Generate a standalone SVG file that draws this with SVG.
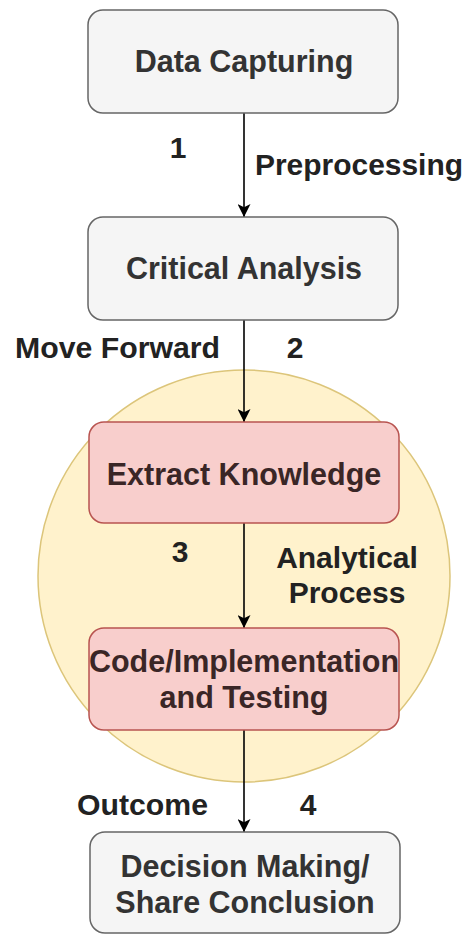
<svg xmlns="http://www.w3.org/2000/svg" width="467" height="935" viewBox="0 0 467 935">
  <defs>
    <marker id="arrow" viewBox="0 0 10 10" refX="10" refY="5" markerWidth="14" markerHeight="13" markerUnits="userSpaceOnUse" orient="auto">
      <path d="M0,0 L10,5 L0,10 L2.5,5 Z" fill="#000"/>
    </marker>
    <style>
      .grey { fill: #f5f5f5; stroke: #666666; stroke-width: 1.5; }
      .red { fill: #f8cecc; stroke: #b85450; stroke-width: 1.5; }
      .zone { fill: #fff2cc; stroke: #dcc57a; stroke-width: 1.5; }
      .node-text { font-family: "Liberation Sans", Arial, sans-serif; font-size: 30.5px; font-weight: bold; fill: #333333; text-anchor: middle; }
      .red-text { fill: #3a2626; }
      .edge-label { font-family: "Liberation Sans", Arial, sans-serif; font-size: 30px; font-weight: bold; fill: #222222; }
      .edge { stroke: #000; stroke-width: 1.6; fill: none; marker-end: url(#arrow); }
    </style>
  </defs>
  <rect width="467" height="935" fill="#ffffff"/>

  <!-- background zone grouping the analytical steps -->
  <g id="analysis-zone">
    <circle class="zone" cx="244" cy="576" r="206"/>
  </g>

  <g id="connectors">
    <line class="edge" x1="244" y1="113" x2="244" y2="217"/>
    <line class="edge" x1="244" y1="320" x2="244" y2="422"/>
    <line class="edge" x1="244" y1="523" x2="244" y2="628"/>
    <line class="edge" x1="244" y1="730" x2="244" y2="832"/>
  </g>

  <g id="edge-labels">
    <text class="edge-label" x="178" y="158" text-anchor="middle">1</text>
    <text class="edge-label" x="255" y="175" textLength="208" lengthAdjust="spacingAndGlyphs">Preprocessing</text>
    <text class="edge-label" x="15" y="358" textLength="205" lengthAdjust="spacingAndGlyphs">Move Forward</text>
    <text class="edge-label" x="295" y="358" text-anchor="middle">2</text>
    <text class="edge-label" x="180" y="562" text-anchor="middle">3</text>
    <text class="edge-label" x="347" y="568" text-anchor="middle">Analytical</text>
    <text class="edge-label" x="347" y="603" text-anchor="middle">Process</text>
    <text class="edge-label" x="77" y="815" textLength="131" lengthAdjust="spacingAndGlyphs">Outcome</text>
    <text class="edge-label" x="308" y="815" text-anchor="middle">4</text>
  </g>

  <g id="data-capturing">
    <rect class="grey" x="88" y="10" width="310" height="103" rx="15"/>
    <text class="node-text" x="244" y="72">Data Capturing</text>
  </g>

  <g id="critical-analysis">
    <rect class="grey" x="88" y="217" width="310" height="103" rx="15"/>
    <text class="node-text" x="244" y="279">Critical Analysis</text>
  </g>

  <g id="extract-knowledge">
    <rect class="red" x="89" y="422" width="310" height="101" rx="15"/>
    <text class="node-text red-text" x="244" y="485">Extract Knowledge</text>
  </g>

  <g id="code-implementation">
    <rect class="red" x="89" y="628" width="310" height="102" rx="15"/>
    <text class="node-text red-text" x="244" y="672">Code/Implementation</text>
    <text class="node-text red-text" x="244" y="708">and Testing</text>
  </g>

  <g id="decision-making">
    <rect class="grey" x="90" y="832" width="310" height="101" rx="15"/>
    <text class="node-text" x="245" y="877">Decision Making/</text>
    <text class="node-text" x="245" y="913">Share Conclusion</text>
  </g>
</svg>
